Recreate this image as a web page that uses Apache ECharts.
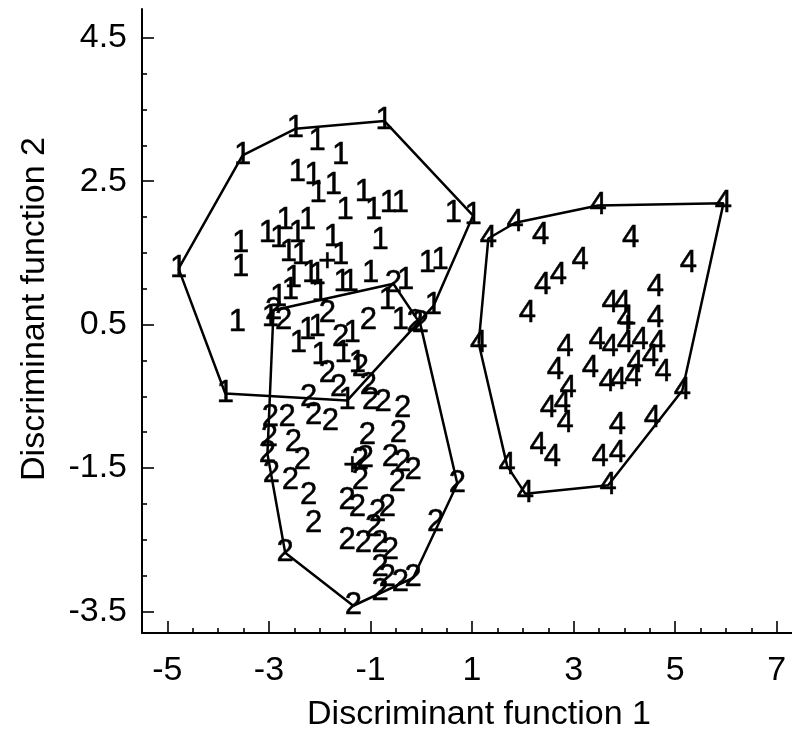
<!DOCTYPE html>
<html>
<head>
<meta charset="utf-8">
<script src="https://cdn.jsdelivr.net/npm/echarts@6/dist/echarts.min.js"></script>
<style>
  html, body { margin: 0; padding: 0; background: #fff; }
  #chart { width: 792px; height: 730px; }
</style>
</head>
<body>
<div id="chart"></div>
<script>
// Tick labels
const xTickLabels = [-5, -3, -1, 1, 3, 5, 7];
const yTickLabels = [-3.5, -1.5, 0.5, 2.5, 4.5];

// Discriminant scores (function 1, function 2) per group
const group1 = [
  [-4.78, 1.28], [-3.52, 2.86], [-2.48, 3.23], [-0.73, 3.34], [1.02, 2.02], [0.24, 0.76], [-1.46, -0.56], [-3.86, -0.46],
  [-2.05, 3.06], [-1.59, 2.86], [-2.44, 2.62], [-2.13, 2.58], [-2.03, 2.33], [-1.73, 2.44], [-1.14, 2.34], [-1.50, 2.09],
  [-0.94, 2.09], [-0.65, 2.19], [-0.41, 2.19], [0.63, 2.05],
  [-2.68, 1.95], [-2.24, 1.95], [-3.03, 1.77], [-2.81, 1.70], [-2.44, 1.77], [-3.56, 1.63], [-3.56, 1.29], [-2.62, 1.50],
  [-2.38, 1.46], [-1.75, 1.71], [-0.81, 1.67], [-1.59, 1.46],
  [-2.18, 1.21], [-2.05, 1.18], [-2.52, 1.14], [-2.58, 0.97], [-2.81, 0.88], [-1.99, 0.95], [-1.56, 1.09], [-1.40, 1.09],
  [-1.00, 1.21], [-0.31, 1.11], [0.12, 1.35], [0.37, 1.39], [-0.67, 0.83], [-0.41, 0.56],
  [-3.62, 0.53], [-2.97, 0.60], [-2.42, 0.24], [-2.24, 0.42], [-2.05, 0.46], [-1.99, 0.07], [-1.54, 0.10], [-1.36, 0.37],
  [-1.26, -0.04]
];
const group2 = [
  [-2.91, 0.70], [-0.55, 1.07], [-0.02, 0.51], [0.71, -1.72], [0.28, -2.26], [-0.16, -3.03], [-1.34, -3.42], [-2.68, -2.68],
  [-3.03, -1.30],
  [-2.71, 0.56], [-1.85, 0.65], [-1.04, 0.56], [-1.59, 0.32], [-0.12, 0.53], [-1.85, -0.18], [-1.20, -0.10], [-1.63, -0.38],
  [-1.04, -0.35], [-2.22, -0.52], [-1.00, -0.56], [-0.75, -0.59], [-2.12, -0.77], [-1.79, -0.85], [-2.97, -0.80],
  [-2.64, -0.80], [-2.99, -1.07], [-2.52, -1.14], [-2.34, -1.40], [-2.95, -1.58], [-2.58, -1.67], [-2.22, -1.88],
  [-2.12, -2.27],
  [-1.06, -1.05], [-0.37, -0.67], [-0.45, -1.02], [-1.20, -1.40], [-1.10, -1.37], [-0.61, -1.35], [-0.37, -1.42],
  [-0.16, -1.54], [-0.47, -1.70], [-1.20, -1.67],
  [-1.46, -1.95], [-1.26, -2.05], [-0.86, -2.12], [-0.67, -2.05], [-0.94, -2.33], [-1.46, -2.51], [-1.14, -2.55],
  [-0.81, -2.55], [-0.61, -2.65], [-0.81, -2.89], [-0.67, -3.03], [-0.41, -3.10], [-0.81, -3.22]
];
const group4 = [
  [1.32, 1.70], [1.85, 1.92], [3.48, 2.16], [5.95, 2.19], [5.14, -0.42], [4.55, -0.81], [3.68, -1.74], [2.05, -1.86],
  [1.69, -1.47], [1.13, 0.24],
  [2.35, 1.74], [4.12, 1.70], [5.26, 1.35], [3.13, 1.39], [2.39, 1.04], [2.70, 1.18], [2.09, 0.65], [3.72, 0.79],
  [3.96, 0.79], [4.02, 0.56], [4.61, 1.02], [4.61, 0.58],
  [3.46, 0.28], [3.72, 0.18], [4.02, 0.24], [4.31, 0.28], [4.65, 0.24], [4.51, 0.04], [4.21, -0.04], [4.17, -0.24],
  [4.76, -0.17], [2.83, 0.18], [2.64, -0.14], [3.33, -0.11],
  [3.66, -0.31], [3.88, -0.28], [2.89, -0.39], [2.50, -0.67], [2.78, -0.60], [2.83, -0.88], [3.86, -0.91],
  [2.30, -1.19], [2.58, -1.35], [3.52, -1.35], [3.86, -1.30]
];
// Group centroids
const centroids = [[-1.85, 1.36], [-1.36, -1.48], [4.06, 0.49]];

const groups = [
  { name: '1', data: group1 },
  { name: '2', data: group2 },
  { name: '4', data: group4 }
];

// Convex hull (monotone chain), returned closed
function convexHull(points) {
  const p = points.slice().sort((a, b) => a[0] - b[0] || a[1] - b[1]);
  const cross = (o, a, b) => (a[0] - o[0]) * (b[1] - o[1]) - (a[1] - o[1]) * (b[0] - o[0]);
  const lower = [];
  for (const pt of p) {
    while (lower.length >= 2 && cross(lower[lower.length - 2], lower[lower.length - 1], pt) <= 0) lower.pop();
    lower.push(pt);
  }
  const upper = [];
  for (let i = p.length - 1; i >= 0; i--) {
    const pt = p[i];
    while (upper.length >= 2 && cross(upper[upper.length - 2], upper[upper.length - 1], pt) <= 0) upper.pop();
    upper.push(pt);
  }
  upper.pop(); lower.pop();
  const hull = lower.concat(upper);
  hull.push(hull[0]);
  return hull;
}

function steps(from, to, step) {
  const out = [];
  for (let v = from; v <= to + 1e-9; v += step) out.push(Math.round(v * 100) / 100);
  return out;
}

const FONT = '"Liberation Sans", Arial, Helvetica, sans-serif';
const X_MIN = -5.5, X_MAX = 7.3, Y_MIN = -3.8, Y_MAX = 4.9;
const xMinor = steps(-4.5, 6.5, 0.5).filter(v => !xTickLabels.includes(v));
const yMinor = steps(-3.0, 4.0, 0.5).filter(v => !yTickLabels.includes(v));

const tickLine = { color: '#000', width: 1.6 };
const markLabel = {
  show: true, position: 'inside', fontSize: 31, color: '#000', fontFamily: FONT,
  textBorderColor: '#000', textBorderWidth: 0.5
};

const option = {
  animation: false,
  backgroundColor: '#fff',
  grid: { left: 142, right: 0, top: 9, bottom: 97, containLabel: false, outerBoundsMode: 'none' },
  xAxis: [
    {
      type: 'value', min: X_MIN, max: X_MAX, position: 'bottom',
      axisLine: { show: true, onZero: false, lineStyle: { color: '#000', width: 2 } },
      axisTick: { show: true, inside: true, length: 5, customValues: xMinor, lineStyle: tickLine },
      axisLabel: { show: false },
      splitLine: { show: false }
    },
    {
      type: 'value', min: X_MIN, max: X_MAX, position: 'bottom',
      axisLine: { show: false, onZero: false },
      axisTick: { show: true, inside: true, length: 12, customValues: xTickLabels, lineStyle: tickLine },
      axisLabel: { show: true, customValues: xTickLabels, fontSize: 34, color: '#000', fontFamily: FONT, margin: 21 },
      splitLine: { show: false },
      name: 'Discriminant function 1', nameLocation: 'middle', nameGap: 65,
      nameTextStyle: { fontSize: 34, color: '#000', fontFamily: FONT, padding: [0, 0, 0, 24] }
    }
  ],
  yAxis: [
    {
      type: 'value', min: Y_MIN, max: Y_MAX, position: 'left',
      axisLine: { show: true, onZero: false, lineStyle: { color: '#000', width: 2 } },
      axisTick: { show: true, inside: true, length: 5, customValues: yMinor, lineStyle: tickLine },
      axisLabel: { show: false },
      splitLine: { show: false }
    },
    {
      type: 'value', min: Y_MIN, max: Y_MAX, position: 'left',
      axisLine: { show: false, onZero: false },
      axisTick: { show: true, inside: true, length: 12, customValues: yTickLabels, lineStyle: tickLine },
      axisLabel: { show: true, customValues: yTickLabels, fontSize: 34, color: '#000', fontFamily: FONT, margin: 15 },
      splitLine: { show: false },
      name: 'Discriminant function 2', nameLocation: 'middle', nameRotate: 90, nameGap: 90,
      nameTextStyle: { fontSize: 34, color: '#000', fontFamily: FONT, padding: [0, 0, 0, 24] }
    }
  ],
  series: []
};

groups.forEach(g => {
  option.series.push({
    type: 'line', name: 'hull ' + g.name,
    xAxisIndex: 0, yAxisIndex: 0,
    data: convexHull(g.data),
    symbol: 'none', silent: true,
    lineStyle: { color: '#000', width: 2.5 }
  });
  option.series.push({
    type: 'scatter', name: g.name,
    xAxisIndex: 0, yAxisIndex: 0,
    data: g.data,
    symbolSize: 1,
    itemStyle: { color: 'rgba(0,0,0,0)', opacity: 1 },
    label: Object.assign({ formatter: g.name }, markLabel)
  });
});

option.series.push({
  type: 'scatter', name: 'centroid',
  xAxisIndex: 0, yAxisIndex: 0,
  data: centroids,
  symbolSize: 1,
  itemStyle: { color: 'rgba(0,0,0,0)', opacity: 1 },
  label: Object.assign({ formatter: '+' }, markLabel)
});

const chart = echarts.init(document.getElementById('chart'), null, { renderer: 'canvas' });
chart.setOption(option);
</script>
</body>
</html>
